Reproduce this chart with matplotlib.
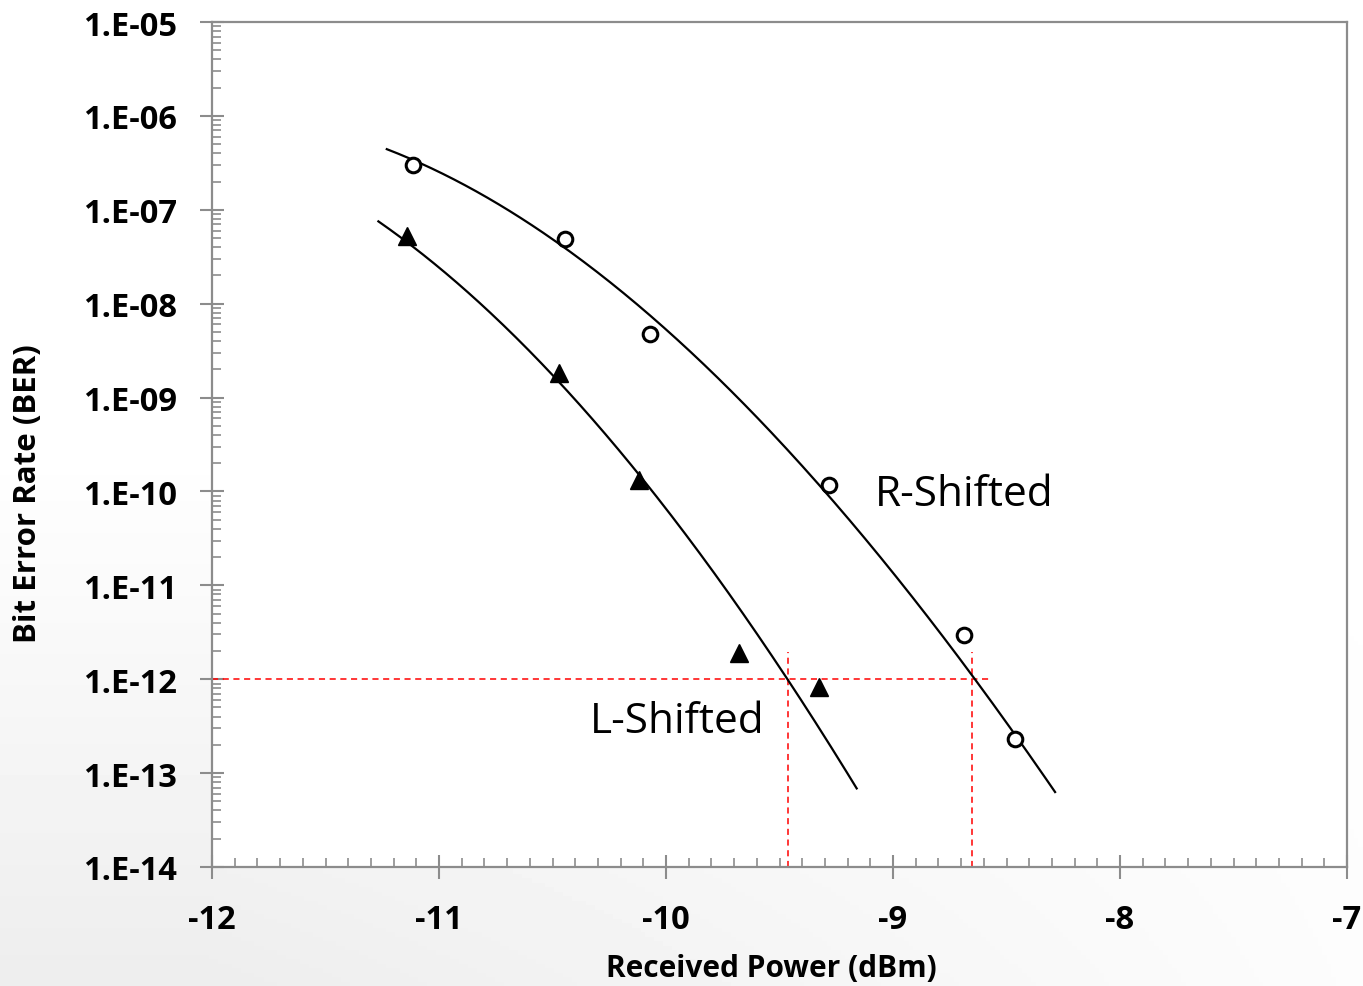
import numpy as np
import matplotlib
matplotlib.use("Agg")
import matplotlib.pyplot as plt
from matplotlib.ticker import LogLocator, FixedLocator, MultipleLocator, NullFormatter

r_power = [-11.115, -10.445, -10.07, -9.282, -8.687, -8.463]
r_ber = [3.0e-7, 4.9e-8, 4.75e-9, 1.17e-10, 2.96e-12, 2.31e-13]
l_power = [-11.141, -10.471, -10.119, -9.678, -9.326]
l_ber = [5.26e-8, 1.83e-9, 1.33e-10, 1.9e-12, 8.3e-13]

# Trend-line samples, log10(BER)
r_fit_x = [-11.230, -10.482, -10.026, -9.850, -9.704, -9.278, -9.057, -8.837,
           -8.653, -8.470, -8.286]
r_fit_log = [-6.371, -7.258, -8.270, -8.661, -8.980, -10.009, -10.684, -11.323,
             -11.980, -12.601, -13.187]
l_fit_x = [-11.267, -10.863, -10.511, -10.291, -10.085, -9.850, -9.630, -9.466,
           -9.292, -9.160]
l_fit_log = [-7.133, -7.879, -8.731, -9.317, -9.939, -10.719, -11.358, -11.980,
             -12.637, -13.187]

ref_ber = 1e-12
ref_h_end = -8.564
ref_v_x = [-9.463, -8.652]
ref_v_top = 1.95e-12

y_ticks = [1e-14, 1e-13, 1e-12, 1e-11, 1e-10, 1e-9, 1e-8, 1e-7, 1e-6, 1e-5]
y_labels = ["1.E-14", "1.E-13", "1.E-12", "1.E-11", "1.E-10", "1.E-09",
            "1.E-08", "1.E-07", "1.E-06", "1.E-05"]
x_ticks = [-12, -11, -10, -9, -8, -7]

W, H = 1363, 987
fig = plt.figure(figsize=(W / 100, H / 100), dpi=100)

# subtle grey backdrop at the lower-left, as in the reference
bg = fig.add_axes([0, 0, 1, 1], zorder=-10)
gx, gy = np.meshgrid(np.linspace(0, 1, 300), np.linspace(0, 1, 220))
f = np.clip((gy - 0.45) / 0.55, 0, 1) * np.clip(1.15 - gx, 0, 1)
bg.imshow(1 - 0.07 * f, cmap="gray", vmin=0, vmax=1, aspect="auto",
          extent=[0, 1, 0, 1], origin="upper")
bg.axis("off")

ax = fig.add_axes([212 / W, 1 - 868 / H, (1347 - 212) / W, (868 - 23) / H])
ax.set_facecolor("white")


def smooth_trend(xs, logs):
    # smooth trend line through the read samples (as in the original trendline)
    c = np.polyfit(xs, logs, 3)
    xx = np.linspace(min(xs), max(xs), 300)
    return xx, 10 ** np.polyval(c, xx)


xx, yy = smooth_trend(r_fit_x, r_fit_log)
ax.plot(xx, yy, color="black", lw=1.6, zorder=3)
xx, yy = smooth_trend(l_fit_x, l_fit_log)
ax.plot(xx, yy, color="black", lw=1.6, zorder=3)

ax.plot(r_power, r_ber, linestyle="none", marker="o", markersize=10.5,
        markerfacecolor="white", markeredgecolor="black", markeredgewidth=2.2, zorder=4)
ax.plot(l_power, l_ber, linestyle="none", marker="^", markersize=12.5,
        markerfacecolor="black", markeredgecolor="black", zorder=4)

# red reference lines
ax.plot([-12, ref_h_end], [ref_ber, ref_ber], color="red", lw=1.1,
        linestyle=(0, (4, 3)), zorder=2)
for vx in ref_v_x:
    ax.plot([vx, vx], [1e-14, ref_v_top], color="red", lw=1.1,
            linestyle=(0, (4, 3)), zorder=2)

ax.text(-9.079, 0.93e-10, "R-Shifted", fontsize=30.5, family="Open Sans",
        va="center", ha="left")
ax.text(-10.335, 3.6e-13, "L-Shifted", fontsize=30.5, family="Open Sans",
        va="center", ha="left")

ax.set_yscale("log")
ax.set_xlim(-12, -7)
ax.set_ylim(1e-14, 1e-5)

spine_c = "#8c8c8c"
for s in ax.spines.values():
    s.set_color(spine_c)
    s.set_linewidth(1.6)

ax.yaxis.set_major_locator(FixedLocator(y_ticks))
ax.set_yticklabels(y_labels)
ax.yaxis.set_minor_locator(LogLocator(base=10, subs=np.arange(2, 10), numticks=100))
ax.yaxis.set_minor_formatter(NullFormatter())
ax.xaxis.set_major_locator(FixedLocator(x_ticks))
ax.set_xticklabels([str(v) for v in x_ticks])
ax.xaxis.set_minor_locator(MultipleLocator(0.1))

ax.tick_params(axis="both", which="major", direction="inout", length=17,
               width=1.5, color=spine_c)
ax.tick_params(axis="both", which="minor", direction="in", length=6.5,
               width=1.2, color=spine_c)
ax.tick_params(axis="y", which="major", pad=17)
ax.tick_params(axis="x", which="major", pad=17.5)

for lab in ax.get_xticklabels() + ax.get_yticklabels():
    lab.set_family("Open Sans")
    lab.set_fontweight("bold")
    lab.set_fontsize(23.5)

fig.text(771 / W, 1 - 977 / H, "Received Power (dBm)", family="Open Sans",
         fontweight="bold", fontsize=21.5, ha="center", va="baseline")
fig.text(28 / W, 1 - 494 / H, "Bit Error Rate (BER)", family="Open Sans",
         fontweight="bold", fontsize=22.5, ha="center", va="center", rotation=90)

fig.savefig("out.png", dpi=100)
